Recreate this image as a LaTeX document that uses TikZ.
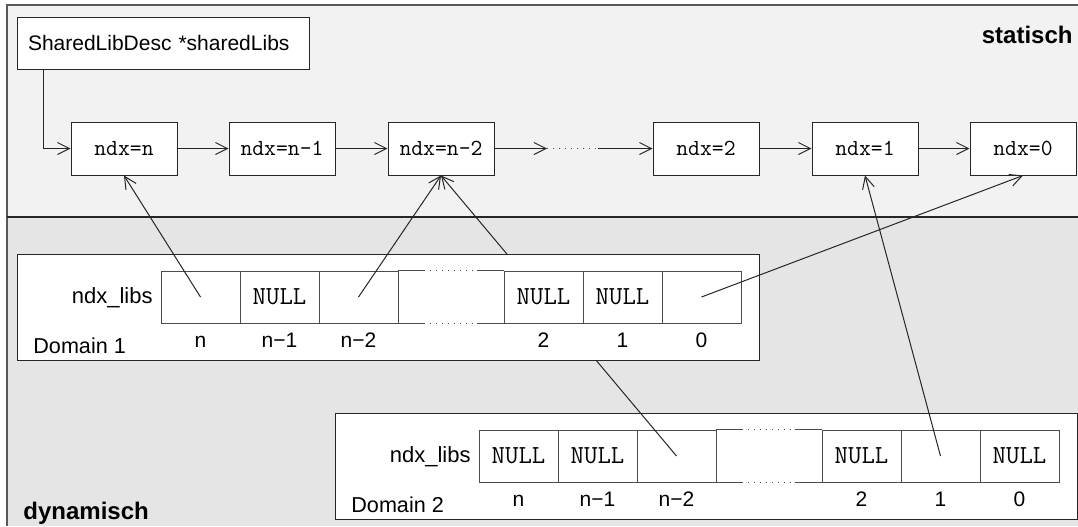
\documentclass[tikz,border=0pt]{standalone}
\usepackage{fontspec}
\setmainfont{Liberation Sans}
\usetikzlibrary{arrows.meta,calc}

% One row of the per-domain index table: #1 name prefix, #2 caption,
% #3 list of cells k/x-centre/index/content
\newcommand\memrow[3]{%
  \node[dompanel] (#1) at (371,53) {};
  \node[anchor=base east, inner sep=0pt, font=\fontsize{11}{13}\selectfont] (#1name) at (136,49) {ndx\_libs};
  \node[anchor=base west, inner sep=0pt, font=\fontsize{10.8}{13}\selectfont] (#1cap) at (16,99) {#2};
  \foreach \k/\cx/\ix/\t in {#3} {
    \node[memcell] (#1c\k) at (\cx,43) {\t};
    \node[anchor=base, inner sep=0pt] (#1i\k) at (\cx,93) {\ix};
  }
  \node[gapcell] (#1g) at (434,43) {};
  \path (#1g.north west) ++(26.5,0) coordinate (#1ta) ++(53,0) coordinate (#1tb);
  \path (#1g.south west) ++(26.5,0) coordinate (#1ba) ++(53,0) coordinate (#1bb);
  \draw[solidline] (#1g.north west) -- (#1ta) (#1tb) -- (#1g.north east)
                   (#1g.south west) -- (#1ba) (#1bb) -- (#1g.south east);
  \draw[dotline] (#1ta) -- (#1tb) (#1ba) -- (#1bb);
}

\begin{document}
\begin{tikzpicture}[x=0.5pt, y=-0.5pt,
  every node/.style={font=\fontsize{10.5}{12.5}\selectfont},
  framebox/.style={draw=black!85, fill=white, line width=0.5pt, inner sep=0pt},
  ndxbox/.style={framebox, minimum width=53pt, minimum height=26.5pt,
                 font=\ttfamily\fontsize{11.5}{13}\selectfont},
  memcell/.style={framebox, draw=black!70, minimum width=39.5pt, minimum height=26pt,
                  font=\ttfamily\fontsize{13}{15}\selectfont},
  gapcell/.style={inner sep=0pt, minimum width=53pt, minimum height=26pt},
  dompanel/.style={framebox, minimum width=371pt, minimum height=53pt},
  ptrline/.style={draw=black!85, line width=0.5pt, -{Straight Barb[length=6pt,width=6pt]}},
  solidline/.style={draw=black!70, line width=0.5pt},
  dotline/.style={draw=black!70, line width=0.5pt, dash pattern=on 0.5pt off 2.5pt},
  regionlabel/.style={inner sep=0pt, font=\bfseries\fontsize{12}{14}\selectfont},
]
\useasboundingbox (0,0) rectangle (1078,526);

% static and dynamic regions
\fill[black!5]  (7,5)   rectangle (1078,217);
\fill[black!10] (7,217) rectangle (1078,526);
\draw[black!65, line width=0.8pt] (1078,5) -- (7,5) -- (7,526);
\draw[black!85, line width=1pt] (7,217) -- (1078,217);
\node[regionlabel, anchor=base east] (stat) at (1073,43) {statisch};
\node[regionlabel, anchor=base west] (dyn) at (23,519) {dynamisch};

% static list of shared library descriptors
\node[framebox, minimum height=26pt, text width=135pt, align=left, inner xsep=5.5pt]
  (shared) at (163,43) {SharedLibDesc *sharedLibs};
\node[ndxbox] (nn)  at (124,148.5)  {ndx=n};
\node[ndxbox] (nm1) at (282,148.5)  {ndx=n-1};
\node[ndxbox] (nm2) at (441,148.5)  {ndx=n-2};
\node[ndxbox] (n2)  at (706,148.5)  {ndx=2};
\node[ndxbox] (n1)  at (865,148.5)  {ndx=1};
\node[ndxbox] (n0)  at (1023,148.5) {ndx=0};
\coordinate (ga) at (547,148.5);
\coordinate (gb) at (598,148.5);

\draw[ptrline] ($(shared.south west)+(27,0)$) |- (nn.west);
\draw[ptrline] (nn) -- (nm1);
\draw[ptrline] (nm1) -- (nm2);
\draw[ptrline] (nm2) -- (ga);
\draw[dotline] (ga) -- (gb);
\draw[ptrline] (gb) -- (n2);
\draw[ptrline] (n2) -- (n1);
\draw[ptrline] (n1) -- (n0);

% domain 2
\begin{scope}[shift={(335,413)}]
  \memrow{dB}{Domain 2}{0/183.5/n/NULL, 1/262.5/n−1/NULL, 2/341.5/n−2/{},
                         4/526.5/2/NULL, 5/605.5/1/{}, 6/684.5/0/NULL}
\end{scope}
\draw[ptrline] (dBc2.center) -- (nm2.south);

% domain 1 (lies over the pointer from domain 2)
\begin{scope}[shift={(17,254)}]
  \memrow{dA}{Domain 1}{0/183.5/n/{}, 1/262.5/n−1/NULL, 2/341.5/n−2/{},
                         4/526.5/2/NULL, 5/605.5/1/NULL, 6/684.5/0/{}}
\end{scope}

\draw[ptrline] (dAc0.center) -- (nn.south);
\draw[ptrline] (dAc2.center) -- (nm2.south);
\draw[ptrline] (dAc6.center) -- (n0.south);
\draw[ptrline] (dBc5.center) -- (n1.south);
\end{tikzpicture}
\end{document}
